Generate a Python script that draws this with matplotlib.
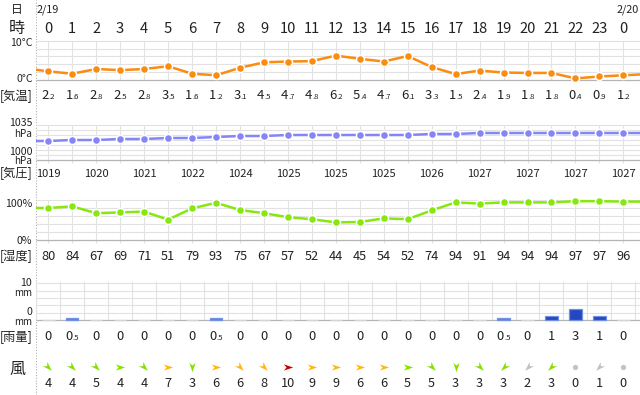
import matplotlib
matplotlib.use('Agg')
import matplotlib.pyplot as plt
from matplotlib.path import Path
from matplotlib.markers import MarkerStyle
from matplotlib.transforms import Affine2D, blended_transform_factory

plt.rcParams['font.family'] = ['Noto Sans CJK JP', 'DejaVu Sans']

# データ（2/19 0時 〜 2/20 0時）
hours = list(range(24)) + [0]
temp = [2.2, 1.6, 2.8, 2.5, 2.8, 3.5, 1.6, 1.2, 3.1, 4.5, 4.7, 4.8, 6.2,
        5.4, 4.7, 6.1, 3.3, 1.5, 2.4, 1.9, 1.8, 1.8, 0.4, 0.9, 1.2]
temp_edge = [3.0, 1.5]          # 前日23時・翌1時（画面端で切れる線）
pres = [1019, 1020, 1020, 1021, 1021, 1022, 1022, 1023, 1024, 1024, 1025, 1025, 1025,
        1025, 1025, 1025, 1026, 1026, 1027, 1027, 1027, 1027, 1027, 1027, 1027]
pres_edge = [1019, 1027]
humid = [80, 84, 67, 69, 71, 51, 79, 93, 75, 67, 57, 52, 44,
         45, 54, 52, 74, 94, 91, 94, 94, 94, 97, 97, 96]
humid_edge = [80, 96]
rain = [0, 0.5, 0, 0, 0, 0, 0, 0.5, 0, 0, 0, 0, 0,
        0, 0, 0, 0, 0, 0, 0.5, 0, 1, 3, 1, 0]
wind_speed = [4, 4, 5, 4, 4, 7, 3, 6, 6, 8, 10, 9, 9,
              6, 6, 5, 5, 3, 3, 3, 2, 3, 0, 1, 0]
# 矢印の向き（度、右向き=0、反時計回り）
wind_dir = [-45, -45, -45, 0, -45, 0, -90, 0, -45, -45, 0, 0, 0,
            0, 0, 0, -45, -90, -45, -135, -135, -135, 0, -135, 0]

W, H = 640, 395
X0, X1 = 36, 640
PX0, STEP = 48.3, 23.96          # 0時の位置と1時間の幅(px)
XL = ((X0 - PX0) / STEP, (X1 - PX0) / STEP)
TXT = '#222222'
GRID = '#e2e2e2'
BASE = '#b4b4b4'

fig = plt.figure(figsize=(W / 100, H / 100), dpi=100)
base = fig.add_axes([0, 0, 1, 1])
base.set_xlim(0, W)
base.set_ylim(H, 0)
base.axis('off')
base.axvline(X0, color='#b0b0b0', lw=0.8, ls=(0, (1, 1.5)))


def panel(top, bot, vtop, vbot, pad=10):
    k = (vtop - vbot) / (bot - top)
    ax = fig.add_axes([X0 / W, 1 - (bot + pad) / H, (X1 - X0) / W, (bot - top + 2 * pad) / H])
    ax.set_xlim(XL)
    ax.set_ylim(vbot - pad * k, vtop + pad * k)
    ax.axis('off')
    return ax


def grid(ax, vals, vlo, vhi, half=False):
    ax.hlines(vals[1:], XL[0], XL[1], colors=GRID, lw=0.8, zorder=0)
    ax.hlines(vals[0], XL[0], XL[1], colors=BASE, lw=0.9, zorder=0.5)
    xs = [i + 0.5 for i in range(-1, 25)] if half else list(range(25))
    ax.vlines(xs, vlo, vhi, colors=GRID, lw=0.8, zorder=0)


def line(ax, vals, edge, color):
    xs = list(range(-1, 26))
    ys = [edge[0]] + vals + [edge[1]]
    ax.plot(xs, ys, color=color, lw=1.8, zorder=2, solid_capstyle='butt')
    ax.plot(range(25), vals, 'o', color=color, ms=5.8, mec='white', mew=1.1, zorder=3)


def tx(x, y, s, size=8.5, ha='left', **kw):
    base.text(x, y, s, fontsize=size, ha=ha, va='baseline', color=TXT, **kw)


# 気温
ax_t = panel(40.7, 80, 10, 0)
grid(ax_t, [0, 2, 4, 6, 8, 10], 0, 10)
line(ax_t, temp, temp_edge, '#fa8c10')
# 気圧
ax_p = panel(125, 160, 1035, 1000)
grid(ax_p, [1000, 1005, 1010, 1015, 1020, 1025, 1030, 1035], 997, 1035)
line(ax_p, pres, pres_edge, '#8585f7')
# 湿度
ax_h = panel(200, 240, 100, 0)
grid(ax_h, [0, 20, 40, 60, 80, 100], -8, 100)
line(ax_h, humid, humid_edge, '#86e80e')
# 雨量
ax_r = panel(283.3, 320, 10, 0)
grid(ax_r, [0, 2, 4, 6, 8, 10], 0, 10.5, half=True)
r_col = ['#d4d4d4' if v == 0 else ('#6281d8' if v < 1 else '#2448c2') for v in rain]
r_edge = ['#d4d4d4' if v == 0 else '#7090e0' for v in rain]
ax_r.bar(range(25), rain, width=0.52, color=r_col, edgecolor=r_edge, lw=0.9, zorder=2)
# 風
ax_w = panel(362, 372, 1, -1, pad=5)
arrow = Path([(1, 0), (-1, 0.66), (-0.4, 0), (-1, -0.66), (1, 0)],
             [Path.MOVETO, Path.LINETO, Path.LINETO, Path.LINETO, Path.CLOSEPOLY])
for i, (sp, d) in enumerate(zip(wind_speed, wind_dir)):
    if sp == 0:
        ax_w.plot(i, 0, 'o', color='#c4c4c4', ms=3.8, mew=0)
        continue
    c = '#c0c0c0' if sp <= 2 else '#86e000' if sp <= 5 else '#ffb61c' if sp <= 9 else '#c40000'
    ax_w.plot(i, 0, marker=MarkerStyle(arrow, transform=Affine2D().rotate_deg(d)),
              color=c, ms=6.8, mew=0)

# 列ごとの文字（x は時間軸、y はピクセル）
tr = blended_transform_factory(ax_t.transData, base.transData)


def col(i, y, s, size=8.5, ha='center'):
    base.text(i, y, s, fontsize=size, ha=ha, va='baseline', color=TXT, transform=tr)


def dec(i, y, v, size=9.4):
    if v == int(v) and y > 300:
        col(i, y, f'{int(v)}', size)
        return
    a, b = f'{v:.1f}'.split('.')
    col(i + 0.02, y, a, size, ha='right')
    col(i + 0.02, y, '.' + b, size * 0.6, ha='left')


for i, h in enumerate(hours):
    col(i, 33.3, str(h), 10.6)
    dec(i, 99.4, temp[i])
    if i % 2 == 0:
        col(i, 176.6, str(pres[i]), 8)
    col(i, 260, str(humid[i]), 9.2)
    dec(i, 340, rain[i])
    col(i, 387.3, str(wind_speed[i]), 9.2)

# 左側のラベル
tx(16.5, 12.6, '日', 8.5, ha='center')
tx(17, 33.3, '時', 11.5, ha='center')
tx(37, 12.6, '2/19', 7.8)
tx(639, 12.6, '2/20', 7.8, ha='right')
tx(0, 100, '[気温]', 8.8)
tx(0, 176.8, '[気圧]', 8.8)
tx(0, 260.3, '[湿度]', 8.8)
tx(0, 340.3, '[雨量]', 8.8)
tx(17, 373.5, '風', 11.5, ha='center')

tx(32.7, 46.5, '10°C', 7.6, ha='right')
tx(32.7, 82.3, '0°C', 7.6, ha='right')
tx(32.7, 126.5, '1035', 7.6, ha='right')
tx(32, 136.6, 'hPa', 7.2, ha='right')
tx(32.7, 155, '1000', 7.6, ha='right')
tx(32, 164.4, 'hPa', 7.2, ha='right')
tx(32, 206.6, '100%', 7.6, ha='right')
tx(32, 244, '0%', 7.6, ha='right')
tx(32, 286.4, '10', 7.6, ha='right')
tx(32, 296.2, 'mm', 7, ha='right')
tx(32, 315.4, '0', 7.6, ha='right')
tx(32, 325, 'mm', 7, ha='right')

fig.savefig('out.png', dpi=100)
